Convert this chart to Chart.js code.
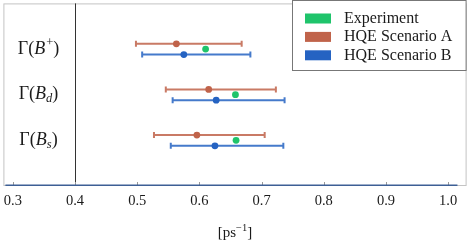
<!DOCTYPE html>
<html><head><meta charset="utf-8">
<script src="https://cdn.jsdelivr.net/npm/chart.js@4.4.0/dist/chart.umd.min.js"></script>
<style>html,body{margin:0;padding:0;background:#fff;overflow:hidden}#wrap{width:470px;height:244px;position:relative}</style>
</head><body><div id="wrap"><canvas id="c"></canvas></div>
<script>
// ---- data ----
const categories = [
  {base:'B', mark:'+', kind:'sup'},
  {base:'B', mark:'d', kind:'sub'},
  {base:'B', mark:'s', kind:'sub'}
];
const seriesNames = ['Experiment', 'HQE Scenario A', 'HQE Scenario B'];
const experiment = [0.610, 0.658, 0.659];
const scenarioA = [0.563, 0.615, 0.596];
const scenarioALow = [0.498, 0.546, 0.527];
const scenarioAHigh = [0.668, 0.723, 0.705];
const scenarioB = [0.575, 0.627, 0.625];
const scenarioBLow = [0.508, 0.557, 0.554];
const scenarioBHigh = [0.682, 0.737, 0.735];
const xTicks = [0.3, 0.4, 0.5, 0.6, 0.7, 0.8, 0.9, 1.0];
const referenceLine = 0.4;
const xTitle = {main:'[ps', sup:'\u22121', close:']'};

// ---- style ----
const SERIF = '"Liberation Serif", "Times New Roman", serif';
const colors = ['#1fc46b', '#c0634a', '#2563c2'];
const barColors = ['#1fc46b', 'rgba(192,99,74,0.85)', 'rgba(37,99,194,0.85)'];
const rowOffsets = [0, -0.115, 0.12];

function pts(vals, off){ return vals.map((v,i)=>({x:v, y:i+off})); }

const datasets = [
  {label:seriesNames[0], data:pts(experiment, rowOffsets[0])},
  {label:seriesNames[1], data:pts(scenarioA, rowOffsets[1]), lo:scenarioALow, hi:scenarioAHigh},
  {label:seriesNames[2], data:pts(scenarioB, rowOffsets[2]), lo:scenarioBLow, hi:scenarioBHigh}
].map((d,i)=>Object.assign(d,{
  backgroundColor:colors[i], borderColor:colors[i], pointRadius:3.4, pointBorderWidth:0,
  pointHoverRadius:3.4, barColor:barColors[i], off:rowOffsets[i]
}));

function drawRich(ctx, parts, cx, cy){
  let w = 0;
  parts.forEach(p=>{ ctx.font = p.font; p.w = ctx.measureText(p.t).width + (p.gap||0); w += p.w; });
  let x = cx - w/2;
  ctx.textBaseline = 'middle'; ctx.textAlign = 'left';
  parts.forEach(p=>{ ctx.font = p.font; ctx.fillText(p.t, x + (p.pre||0), cy + (p.dy||0)); x += p.w; });
}

const overlay = {
  id:'overlay',
  beforeDatasetsDraw(chart){
    const {ctx, chartArea:a, scales:{x,y}} = chart;
    ctx.save();
    ctx.strokeStyle = '#c4c4c4'; ctx.lineWidth = 1;
    ctx.strokeRect(a.left+0.5, a.top+0.5, a.right-a.left-1, a.bottom-a.top-1);
    // reference line
    const rx = Math.round(x.getPixelForValue(referenceLine))+0.5;
    ctx.strokeStyle = '#333'; ctx.beginPath(); ctx.moveTo(rx, a.top); ctx.lineTo(rx, a.bottom); ctx.stroke();
    // inner ticks
    ctx.strokeStyle = '#999';
    xTicks.forEach(t=>{ const p = Math.round(x.getPixelForValue(t))+0.5;
      ctx.beginPath(); ctx.moveTo(p, a.bottom-4); ctx.lineTo(p, a.bottom); ctx.stroke(); });
    // axis line
    ctx.strokeStyle = '#3d5f95'; ctx.lineWidth = 1.5;
    ctx.beginPath(); ctx.moveTo(a.left+2, a.bottom-0.8); ctx.lineTo(x.getPixelForValue(1.015), a.bottom-0.8); ctx.stroke();
    // error bars
    chart.data.datasets.forEach(ds=>{
      if(!ds.lo) return;
      ctx.strokeStyle = ds.barColor; ctx.lineWidth = 2;
      ds.lo.forEach((lo,i)=>{
        const py = y.getPixelForValue(i+ds.off);
        const x1 = x.getPixelForValue(lo), x2 = x.getPixelForValue(ds.hi[i]);
        ctx.beginPath(); ctx.moveTo(x1, py); ctx.lineTo(x2, py);
        ctx.moveTo(x1, py-3); ctx.lineTo(x1, py+3);
        ctx.moveTo(x2, py-3); ctx.lineTo(x2, py+3);
        ctx.stroke();
      });
    });
    ctx.restore();
  },
  afterDraw(chart){
    const {ctx, chartArea:a, scales:{x,y}} = chart;
    ctx.save();
    ctx.fillStyle = '#1a1a1a';
    // category labels
    categories.forEach((c,i)=>{
      const cy = y.getPixelForValue(i);
      const parts = [
        {t:'\u0393(', font:'18px '+SERIF},
        {t:c.base, font:'italic 18px '+SERIF},
        {t:c.mark, font:(c.kind==='sub'?'italic ':'')+'12.5px '+SERIF, dy:c.kind==='sub'?4:-6, pre:c.kind==='sup'?1:0, gap:c.kind==='sup'?1:0},
        {t:')', font:'18px '+SERIF}
      ];
      drawRich(ctx, parts, 38.5, cy);
    });
    // axis title
    drawRich(ctx, [
      {t:xTitle.main, font:'15px '+SERIF},
      {t:xTitle.sup, font:'10.5px '+SERIF, dy:-5},
      {t:xTitle.close, font:'15px '+SERIF}
    ], (a.left+a.right)/2, 233);
    // legend
    const lx = 292.5, ly = 0.5, lw = a.right - 0.5 - lx, lh = 70;
    ctx.fillStyle = '#fff'; ctx.fillRect(lx, ly, lw, lh);
    ctx.strokeStyle = '#777'; ctx.lineWidth = 1; ctx.strokeRect(lx, ly, lw, lh);
    chart.data.datasets.forEach((ds,i)=>{
      const cy = 18.5 + i*18.4;
      ctx.fillStyle = colors[i]; ctx.fillRect(305, cy-5, 26, 10);
      ctx.fillStyle = '#1a1a1a'; ctx.font = '16px '+SERIF; ctx.textBaseline='middle'; ctx.textAlign='left';
      ctx.fillText(ds.label, 344, cy);
    });
    ctx.restore();
  }
};

new Chart(document.getElementById('c'), {
  type:'scatter',
  data:{datasets},
  plugins:[overlay],
  options:{
    responsive:true, maintainAspectRatio:false, animation:false,
    layout:{padding:{left:1, right:1, top:1, bottom:0}},
    plugins:{legend:{display:false}, tooltip:{enabled:false}},
    scales:{
      x:{type:'linear', min:0.28485, max:1.0297,
        afterBuildTicks(s){ s.ticks = xTicks.map(v=>({value:v})); },
        afterFit(s){ s.height = 58; s.paddingLeft = 0; s.paddingRight = 0; },
        grid:{display:false, drawTicks:false}, border:{display:false},
        ticks:{padding:6, color:'#1a1a1a', font:{family:SERIF, size:14.5},
          callback:(v)=>Number(v).toFixed(1)}
      },
      y:{type:'linear', min:-1, max:3, reverse:true, display:false}
    }
  }
});
</script></body></html>
